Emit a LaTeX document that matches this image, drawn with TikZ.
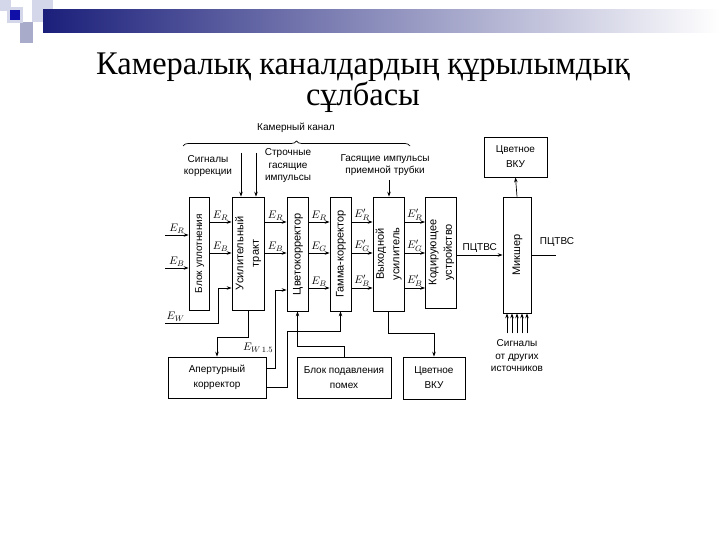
\documentclass[tikz,border=0pt]{standalone}
\usepackage{fontspec}
\setmainfont{Liberation Serif}
\newfontfamily\schemesans{Liberation Sans}
\usetikzlibrary{arrows.meta, calc, decorations.pathreplacing}
\definecolor{barnavy}{HTML}{1B1F7A}
\definecolor{squareblue}{HTML}{1010A8}
\definecolor{palelav}{HTML}{D4D6EA}
\definecolor{greylav}{HTML}{A9ABCB}
\newcommand{\vtext}[1]{\rotatebox{90}{\begin{tabular}{@{}c@{}}#1\end{tabular}}}

\begin{document}
\begin{tikzpicture}[
    x=1pt, y=-1pt,
    blk/.style={rectangle, draw, line width=0.7pt, inner sep=0pt, align=center, font=\schemesans\fontsize{10}{15}\selectfont},
    vblk/.style={blk, font=\schemesans\fontsize{11}{15.5}\selectfont},
    txt/.style={inner sep=0pt, align=center, font=\schemesans\fontsize{10}{12.5}\selectfont},
    sig/.style={-{Stealth[length=5pt, width=3.5pt]}, line width=0.7pt},
    wire/.style={line width=0.7pt},
    lbl/.style={inner sep=1.5pt, font=\fontsize{11}{13}\selectfont},
    ttl/.style={inner sep=0pt, anchor=base, font=\fontsize{30}{31}\selectfont},
  ]
  \useasboundingbox (0,0) rectangle (720,540);

  \fill[palelav] (0,0) rectangle (11,11);
  \fill[palelav] (32,0) rectangle (53,22);
  \fill[greylav] (20,22) rectangle (33,43);
  \shade[left color=barnavy, right color=white] (43,10) rectangle (720,33);
  \fill[palelav] (7,7) rectangle (23,23);
  \fill[squareblue] (10,10) rectangle (20,20);

  \node[ttl] (title) at (363,75) {\scalebox{1.08}[1.1]{Камералық каналдардың құрылымдық}};
  \node[ttl] (titlecont) at (363,106) {\scalebox{1.08}[1.1]{сұлбасы}};

  \node[blk, minimum width=20, minimum height=113] (upl) at (199,253.5) {\vtext{Блок уплотнения}};
  \node[vblk, minimum width=32, minimum height=113] (usil) at (248,253.5) {\vtext{Усилительный\\тракт}};
  \node[vblk, minimum width=21, minimum height=114] (cvet) at (297.5,254) {\vtext{Цветокорректор}};
  \node[vblk, minimum width=21, minimum height=114] (gamma) at (340.5,254) {\vtext{Гамма-корректор}};
  \node[vblk, minimum width=31, minimum height=114] (vyh) at (388.5,254) {\vtext{Выходной\\усилитель}};
  \node[vblk, minimum width=26, minimum height=111] (kod) at (441,252.5) {\vtext{Кодирующее\\устройство}};
  \node[vblk, minimum width=28, minimum height=116] (mix) at (517,255) {\vtext{Микшер}};
  \node[blk, minimum width=63, minimum height=40] (vkutop) at (515.5,157) {Цветное\\ВКУ};
  \node[blk, minimum width=98, minimum height=41] (aper) at (217,377.5) {Апертурный\\корректор};
  \node[blk, minimum width=94, minimum height=41] (pod) at (344,377.5) {Блок подавления\\помех};
  \node[blk, minimum width=62, minimum height=42] (vkubot) at (434,378) {Цветное\\ВКУ};

  \node[txt] (kanal) at (296,128) {Камерный канал};
  \draw[wire, decorate, decoration={brace, amplitude=5pt}] (183,146) -- (410,146);
  \node[txt] (korr) at (208,166) {Сигналы\\коррекции};
  \node[txt] (strok) at (288,166) {Строчные\\гасящие\\импульсы};
  \node[txt] (gas) at (385,165) {Гасящие импульсы\\приемной трубки};
  \node[txt] (drug) at (517,356) {Сигналы\\от других\\источников};

  \coordinate (korrtop) at (241,153);
  \coordinate (stroktop) at (256,153);
  \coordinate (gastop) at (389,180);
  \draw[sig] (korrtop) -- (usil.north -| korrtop);
  \draw[sig] (stroktop) -- (usil.north -| stroktop);
  \draw[sig] (gastop) -- (vyh.north -| gastop);

  \coordinate (inR) at (165,235);
  \coordinate (inB) at (165,268);
  \coordinate (inW) at (165,323);
  \draw[sig] (inR) -- node[lbl, above] {$E_R$} (upl.west |- inR);
  \draw[sig] (inB) -- node[lbl, above] {$E_B$} (upl.west |- inB);
  \draw[sig] (inW) -- node[lbl, above, pos=0.2] {$E_W$} (218,323) |- (usil.west |- 0,288);

  \draw[sig] (upl.east |- 0,222) -- node[lbl, above] {$E_R$} (usil.west |- 0,222);
  \draw[sig] (upl.east |- 0,253) -- node[lbl, above] {$E_B$} (usil.west |- 0,253);
  \draw[sig] (usil.east |- 0,222) -- node[lbl, above] {$E_R$} (cvet.west |- 0,222);
  \draw[sig] (usil.east |- 0,253) -- node[lbl, above] {$E_B$} (cvet.west |- 0,253);

  \foreach \y/\c in {222/R, 253/G, 288/B} {
    \draw[sig] (cvet.east |- 0,\y) -- node[lbl, above] {$E_\c$} (gamma.west |- 0,\y);
    \draw[sig] (gamma.east |- 0,\y) -- node[lbl, above] {$E'_\c$} (vyh.west |- 0,\y);
    \draw[sig] (vyh.east |- 0,\y) -- node[lbl, above] {$E'_\c$} (kod.west |- 0,\y);
  }

  \draw[sig] (kod.east |- 0,255) -- node[txt, above=2pt] {ПЦТВС} (mix.west |- 0,255);
  \coordinate (outend) at (556,255);
  \draw[wire] (mix.east |- outend) -- (outend);
  \node[txt] (pctvs) at (557,242) {ПЦТВС};
  \draw[sig] (mix.north) -- (vkutop.south);
  \foreach \dx in {-10,-5,0,5,10}
    \draw[sig] ($(mix.south)+(\dx,20)$) -- ($(mix.south)+(\dx,0)$);

  \draw[sig] (usil.south) -- ++(0,27) -| (aper.north);
  \draw[sig] (aper.east |- 0,368) -- (275,368) |- node[lbl, left, pos=0.13] {$E_{W\,1.5}$} (cvet.west |- 0,290);
  \draw[sig] (aper.east |- 0,387) -- (287,387) -- (287,331) -| (gamma.south);
  \draw[sig] (pod.north) -- ++(0,-10) -| (cvet.south);
  \draw[sig] (vyh.south) -- ++(0,22) -| (vkubot.north);
\end{tikzpicture}
\end{document}
